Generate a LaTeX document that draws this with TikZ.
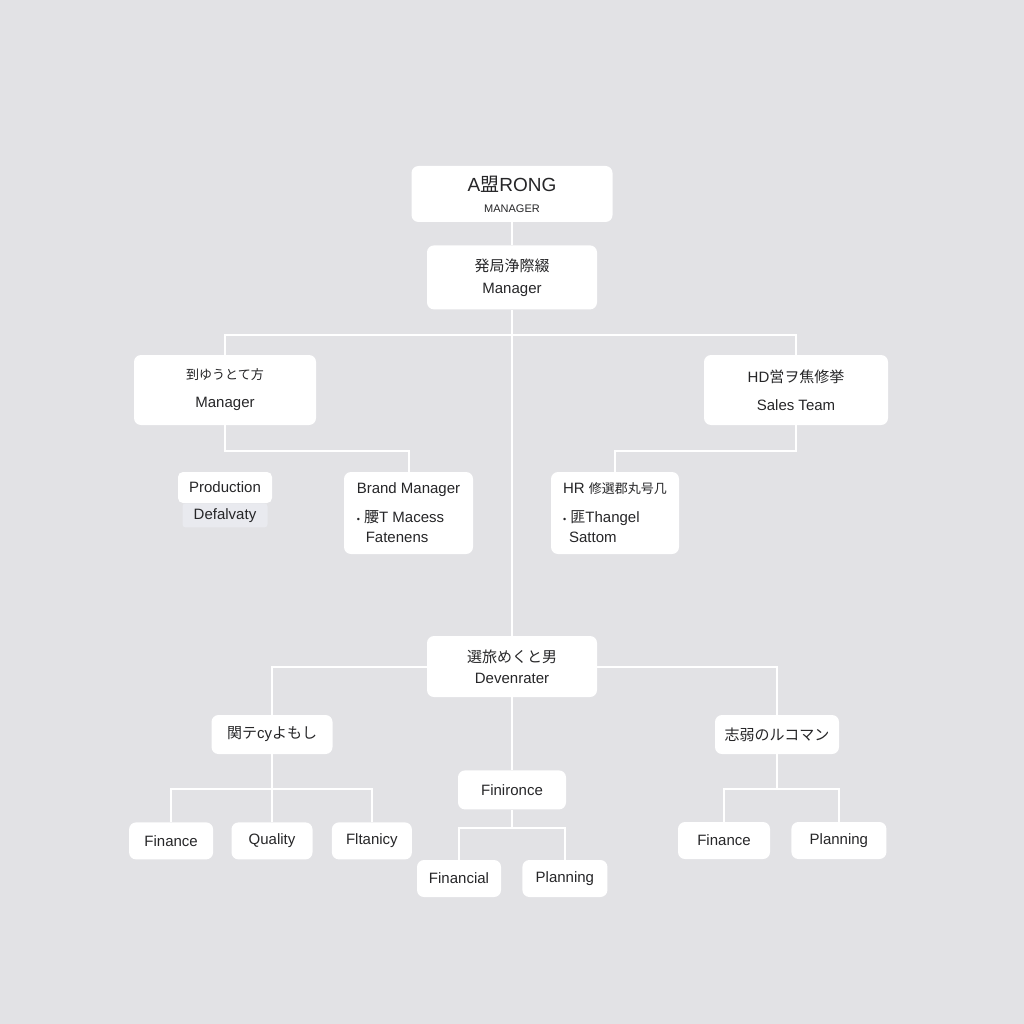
\documentclass[tikz,border=0pt]{standalone}
\usepackage{fontspec}
\setmainfont{Liberation Sans}
\newfontfamily\cjkfont{Noto Sans CJK JP}
\usetikzlibrary{positioning}
\definecolor{bgcol}{RGB}{226,226,229}
\definecolor{txtcol}{RGB}{38,38,40}
\definecolor{tagcol}{RGB}{233,234,239}
\newcommand{\cjtext}[1]{{\cjkfont #1}}
\newcommand{\cjsmall}[1]{{\cjkfont\fontsize{13}{16}\selectfont #1}}
\tikzset{
box/.style={fill=white, rounded corners=7pt, inner sep=0pt, align=center, text=txtcol, font=\fontsize{15}{18}\selectfont}, % white boxes of the chart
leaf/.style={box, minimum height=37pt}, % the small boxes at the bottom
tag/.style={box, fill=tagcol, rounded corners=3pt}, % the grey label under Production
link/.style={draw=white, line width=2pt}, % white connectors
}

\begin{document}
\begin{tikzpicture}[x=1pt, y=-1pt]
              \fill[bgcol] (0,0) rectangle (1024,1024);
              \useasboundingbox (0,0) rectangle (1024,1024);

              \node[box, minimum width=201pt, minimum height=56pt] (chief) at (512,194)
                {{\fontsize{19}{22}\selectfont A\cjtext{盟}RONG}\\[3pt]{\fontsize{11}{13}\selectfont MANAGER}};
              \node[box, minimum width=170pt, minimum height=64pt, below=23pt of chief] (mgr)
                {\cjtext{発局浄際綴}\\[4pt]Manager};
              \node[box, minimum width=182pt, minimum height=70pt] (mgrL) at (225,390)
                {\cjsmall{到ゆうとて方}\\[10pt]Manager};
              \node[box, minimum width=184pt, minimum height=70pt] (mgrR) at (796,390)
                {HD\cjtext{営ヲ焦修挙}\\[10pt]Sales Team};

              \node[box, minimum width=94pt, minimum height=31pt, rounded corners=5pt] (prod) at (225,487.5) {Production};
              \node[tag, minimum width=85pt, minimum height=24pt, below=0pt of prod] (defal) {Defalvaty};
              \node[box, align=left, minimum width=129pt, minimum height=82pt] (brand) at (408.5,513)
                {Brand Manager\\[11pt]{\fontsize{9}{10}\selectfont•}\ \cjtext{腰}T Macess\\[2pt]\hspace{9pt}Fatenens};
              \node[box, align=left, minimum width=128pt, minimum height=82pt] (hr) at (615,513)
                {HR \cjsmall{修選郡丸号几}\\[11pt]{\fontsize{9}{10}\selectfont•}\ \cjtext{匪}Thangel\\[2pt]\hspace{6pt}Sattom};

              \node[box, minimum width=170pt, minimum height=61pt] (dev) at (512,666.5)
                {\cjtext{選旅めくと男}\\[3pt]Devenrater};
              \node[box, minimum width=121pt, minimum height=39pt] (subL) at (272,734.5) {\cjtext{関テ}cy\cjtext{よもし}};
              \node[box, minimum width=124pt, minimum height=39pt] (subR) at (777,734.5) {\cjtext{志弱のルコマン}};
              \node[box, minimum width=108pt, minimum height=39pt, below=73pt of dev] (finr) {Finironce};

              \node[leaf, minimum width=81pt, below=68pt of subL] (qual) {Quality};
              \node[leaf, minimum width=84pt, left=18pt of qual] (finL) {Finance};
              \node[leaf, minimum width=80pt, right=19pt of qual] (flt) {Fltanicy};
              \node[leaf, minimum width=84pt] (financial) at (459,878.5) {Financial};
              \node[leaf, minimum width=85pt, right=21pt of financial] (plan) {Planning};
              \node[leaf, minimum width=92pt] (finR) at (724,840.5) {Finance};
              \node[leaf, minimum width=95pt, right=21pt of finR] (planR) {Planning};

              \draw[link]
              (chief) -- (mgr) -- (dev)
              (mgrL.north) -- ++(0,-20) -| (mgrR.north)
              (mgrL.south) -- ++(0,26) -| (brand.north)
              (mgrR.south) -- ++(0,26) -| (hr.north)

              (dev.west) -| (subL.north)
              (dev.east) -| (subR.north)
              (dev) -- (finr)

              (subL.south) -- ++(0,35) -| (finL.north)
              (subL.south) -- ++(0,35) -| (flt.north)
              (subL.south) -- (qual.north)
              (finr.south) -- ++(0,18) -| (financial.north)
              (finr.south) -- ++(0,18) -| (plan.north)
              (subR.south) -- ++(0,35) -| (finR.north)
              (subR.south) -- ++(0,35) -| (planR.north)
              ;
            \end{tikzpicture}
\end{document}
